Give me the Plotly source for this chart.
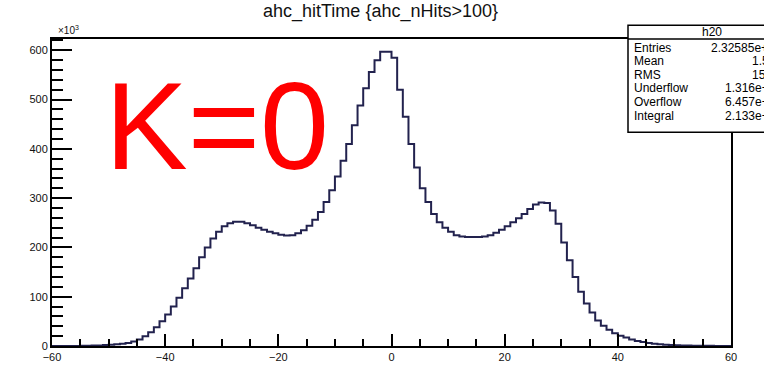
import plotly.graph_objects as go

# ahc_hitTime histogram, 1-unit bins from -60 to 60, contents in units of 10^3
bin_lo = -60
bin_width = 1
counts = [
    0.0, 0.0, 0.1, 0.1, 0.2, 0.3, 0.5, 0.8, 1.2, 1.8,      # -60 .. -51
    2.5, 3.5, 4.5, 6, 9, 13, 20, 28, 38, 50,              # -50 .. -41
    64, 80, 98, 117, 137, 158, 180, 200, 218, 232,        # -40 .. -31
    243, 249, 252, 252, 249, 245, 240, 236, 232, 229,     # -30 .. -21
    226, 224, 225, 229, 235, 244, 256, 272, 292, 316,     # -20 .. -11
    344, 376, 410, 448, 488, 523, 556, 580, 597, 597,     # -10 .. -1
    585, 520, 465, 410, 362, 320, 292, 268, 251, 240,     #   0 .. 9
    232, 225, 222, 221, 221, 221, 222, 225, 230, 236,     #  10 .. 19
    243, 251, 259, 268, 278, 287, 291, 290, 275, 248,     #  20 .. 29
    210, 174, 140, 110, 86, 68, 52, 41, 33, 26,           #  30 .. 39
    21, 17, 13, 10, 8, 6, 4.5, 3.5, 2.7, 2.0,             #  40 .. 49
    1.5, 1.0, 0.8, 0.6, 0.5, 0.4, 0.3, 0.2, 0.1, 0.1,     #  50 .. 59
]
edges = [bin_lo + i * bin_width for i in range(len(counts) + 1)]

title_text = "ahc_hitTime {ahc_nHits>100}"
stats_name = "h20"
stats_labels = ["Entries", "Mean", "RMS", "Underflow", "Overflow", "Integral"]
stats_values = ["2.32585e+07", "1.522", "15.78", "1.316e+05", "6.457e+04", "2.133e+07"]
overlay_label = "K=0"

x_range = [-60, 60]
y_range = [0, 623]

W, H = 764, 375
ML, MR, MT, MB = 52, 33, 39, 23
PW, PH = W - ML - MR, H - MT - MB


def px(xp):
    return (xp - ML) / PW


def py(yp):
    return (H - MB - yp) / PH


fig = go.Figure()
fig.add_trace(go.Scatter(
    x=edges,
    y=counts + [counts[-1]],
    mode="lines",
    line=dict(shape="hv", color="#22224e", width=2),
    hoverinfo="skip",
    showlegend=False,
))

axis_font = dict(family="Liberation Sans, Arial, sans-serif", size=11, color="#111")

fig.update_xaxes(
    range=x_range, tick0=-60, dtick=20,
    ticks="inside", ticklen=12, tickwidth=1.5, tickcolor="black",
    minor=dict(dtick=5, ticks="inside", ticklen=7, tickwidth=1.5, tickcolor="black"),
    showline=True, linewidth=2, linecolor="black", mirror=True,
    showgrid=False, zeroline=False, tickfont=axis_font,
)
fig.update_yaxes(
    range=y_range, tick0=0, dtick=100,
    ticks="inside", ticklen=20, tickwidth=1.5, tickcolor="black",
    minor=dict(dtick=20, ticks="inside", ticklen=11, tickwidth=1.5, tickcolor="black"),
    showline=True, linewidth=2, linecolor="black", mirror=True,
    showgrid=False, zeroline=False, tickfont=axis_font,
)

# statistics box (runs off the right edge of the canvas)
bx0, bx1, by0, by1, bhead = 628, 795, 134, 25, 39
shapes = [
    dict(type="rect", xref="paper", yref="paper", layer="above",
         x0=px(bx0), x1=px(bx1), y0=py(by0), y1=py(by1),
         fillcolor="white", line=dict(color="black", width=1.5)),
    dict(type="line", xref="paper", yref="paper", layer="above",
         x0=px(bx0), x1=px(bx1), y0=py(bhead), y1=py(bhead),
         line=dict(color="black", width=1.5)),
]

stats_font = dict(family="Liberation Sans, Arial, sans-serif", size=12, color="black")
annotations = [
    dict(text=stats_name, xref="paper", yref="paper", x=px((bx0 + bx1) / 2), y=py(32),
         xanchor="center", yanchor="middle", showarrow=False, font=stats_font),
]
row_y0, row_dy = 48, 13.8
for i, (lab, val) in enumerate(zip(stats_labels, stats_values)):
    yy = py(row_y0 + i * row_dy)
    annotations.append(dict(text=lab, xref="paper", yref="paper", x=px(632), y=yy,
                            xanchor="left", yanchor="middle", showarrow=False, font=stats_font))
    annotations.append(dict(text=val, xref="paper", yref="paper", x=px(784), y=yy,
                            xanchor="right", yanchor="middle", showarrow=False, font=stats_font))

# title and axis exponent
annotations.append(dict(text=title_text, xref="paper", yref="paper", x=px(380), y=py(11),
                        xanchor="center", yanchor="middle", showarrow=False,
                        font=dict(family="Liberation Sans, Arial, sans-serif", size=18, color="#111")))
annotations.append(dict(text="×10<sup>3</sup>", xref="paper", yref="paper", x=px(56), y=py(30),
                        xanchor="left", yanchor="middle", showarrow=False,
                        font=dict(family="Liberation Sans, Arial, sans-serif", size=10, color="#111")))

# large red label
annotations.append(dict(text=overlay_label, xref="paper", yref="paper", x=px(103), y=py(128),
                        xanchor="left", yanchor="middle", showarrow=False,
                        font=dict(family="Liberation Sans, Arial, sans-serif", size=124, color="#ff0000")))

fig.update_layout(
    width=W, height=H,
    margin=dict(l=ML, r=MR, t=MT, b=MB),
    paper_bgcolor="white", plot_bgcolor="white",
    shapes=shapes, annotations=annotations,
    showlegend=False,
)

fig.write_html("out.html")
